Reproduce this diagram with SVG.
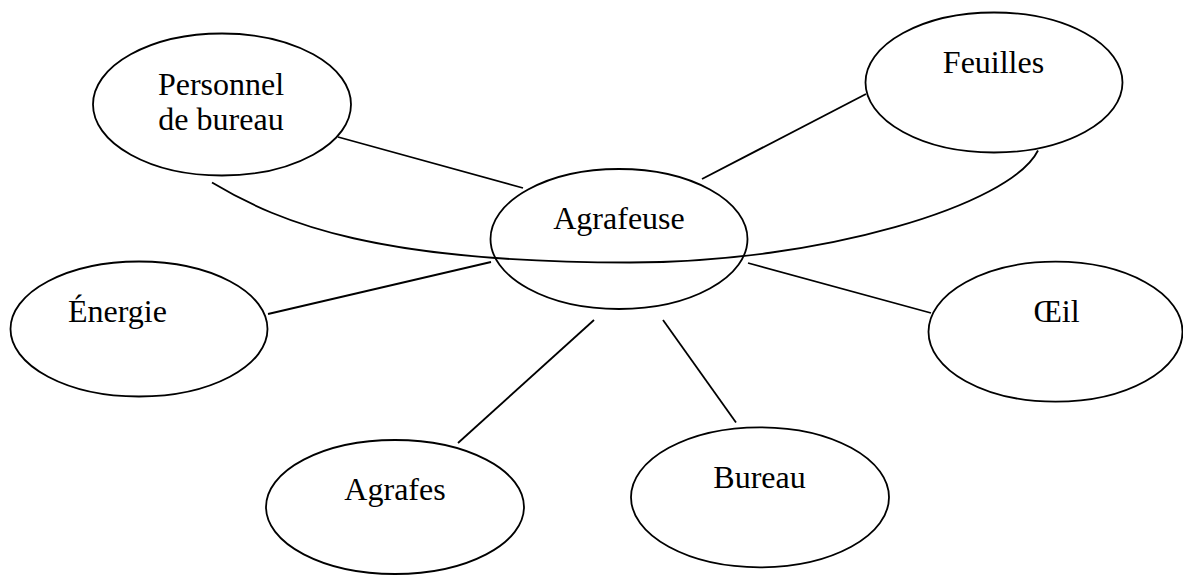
<svg xmlns="http://www.w3.org/2000/svg" width="1183" height="575" viewBox="0 0 1183 575">
<style>
.n{fill:none;stroke:#000;stroke-width:1.8}
.c{fill:none;stroke:#000;stroke-width:1.8}
text{font-family:"Liberation Serif","Times New Roman",serif;font-size:32px;fill:#000;text-anchor:middle}
</style>
<rect width="1183" height="575" fill="#fff"/>
<g id="connectors">
<line class="c" x1="338" y1="137" x2="523" y2="188"/>
<line class="c" x1="866" y1="94" x2="702" y2="179"/>
<line class="c" x1="268" y1="314" x2="491" y2="262"/>
<line class="c" x1="748" y1="263" x2="931" y2="313"/>
<line class="c" x1="594" y1="320" x2="458" y2="443"/>
<line class="c" x1="663" y1="320" x2="736" y2="422.5"/>
<path class="c" d="M212,182.5 C282,224.5 380,262.5 630,262.5 C820,262.5 1010.5,205.5 1038,150.5"/>
</g>
<g id="personnel">
<ellipse class="n" cx="222" cy="104.5" rx="129" ry="71"/>
<text x="221" y="95">Personnel</text>
<text x="221" y="130">de bureau</text>
</g>
<g id="feuilles">
<ellipse class="n" cx="994" cy="82.5" rx="128.5" ry="70"/>
<text x="993.5" y="73">Feuilles</text>
</g>
<g id="agrafeuse">
<ellipse class="n" cx="619" cy="239" rx="128.5" ry="70"/>
<text x="619" y="229">Agrafeuse</text>
</g>
<g id="energie">
<ellipse class="n" cx="139" cy="329" rx="128.5" ry="67.5"/>
<text x="117.5" y="322">Énergie</text>
</g>
<g id="oeil">
<ellipse class="n" cx="1055.5" cy="331.7" rx="127" ry="70"/>
<text x="1056.5" y="322">Œil</text>
</g>
<g id="agrafes">
<ellipse class="n" cx="395" cy="507" rx="129" ry="67"/>
<text x="395" y="500">Agrafes</text>
</g>
<g id="bureau">
<ellipse class="n" cx="760" cy="497.3" rx="129" ry="70"/>
<text x="759.5" y="488">Bureau</text>
</g>
</svg>
